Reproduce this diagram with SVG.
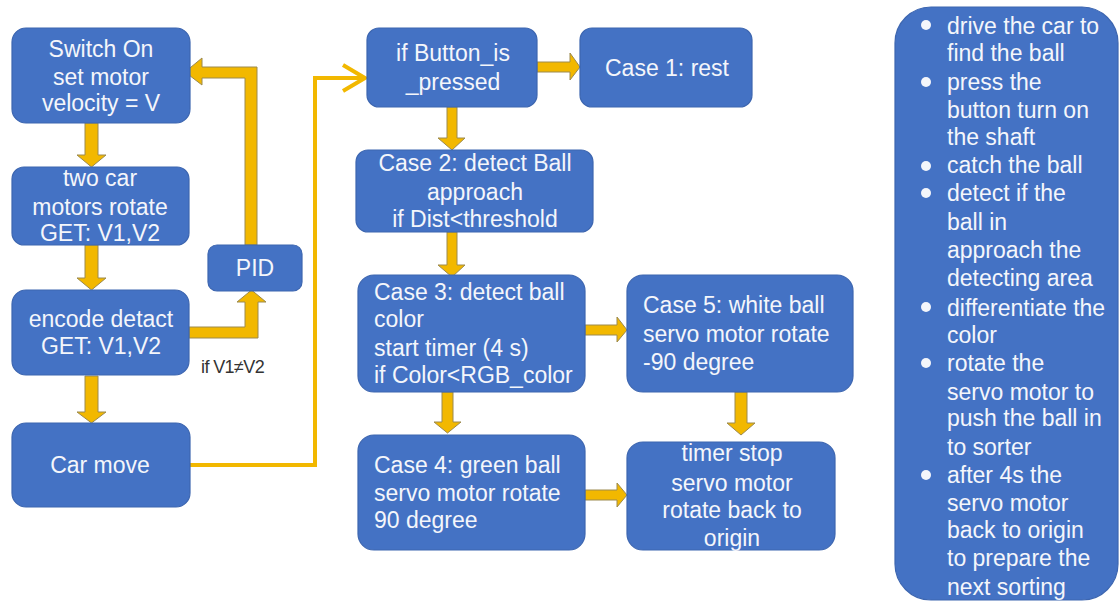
<svg xmlns="http://www.w3.org/2000/svg" width="1120" height="602" viewBox="0 0 1120 602">
<style>
.n{fill:#4472C4;stroke:#3D66B0;stroke-width:1.2}
.t{font-family:"Liberation Sans",Arial,sans-serif;font-size:23px;fill:#F4F6FB}
.c{text-anchor:middle}
.ba{fill:#F2B800;stroke:#9C8A4E;stroke-width:1}
.ln{fill:none;stroke:#F2B800;stroke-width:4;stroke-linejoin:miter}
.lbl{font-family:"Liberation Sans",Arial,sans-serif;font-size:18px;fill:#333;letter-spacing:-0.6px}
.bul{fill:#F4F6FB}
</style>
<rect width="1120" height="602" fill="#FFFFFF"/>
<g id="connectors">
<polygon class="ba" points="85,123 98,123 98,155 106,155 91.5,167 77,155 85,155"/>
<polygon class="ba" points="85,245 98,245 98,278 106,278 91.5,290 77,278 85,278"/>
<polygon class="ba" points="85,376 98,376 98,412 106,412 91.5,423 77,412 85,412"/>
<polygon class="ba" points="189,327 245,327 245,302 237,302 251.5,290 266,302 258,302 258,338 189,338"/>
<polygon class="ba" points="245,245 245,78 202,78 202,85 185,72 202,58 202,67 257,67 257,245"/>
<polyline class="ln" points="190,465 315,465 315,78 363,78"/>
<polyline class="ln" points="343,65 365,78 343,91"/>
<polygon class="ba" points="537,62 570,62 570,53 580,67 570,80 570,72 537,72"/>
<polygon class="ba" points="447,107 457,107 457,138 465,138 452,150 438,138 447,138"/>
<polygon class="ba" points="447,232 457,232 457,265 465,265 452,277 438,265 447,265"/>
<polygon class="ba" points="585,325 617,325 617,317 627,330 617,342 617,335 585,335"/>
<polygon class="ba" points="442,392 453,392 453,422 461,422 447.5,433 434,422 442,422"/>
<polygon class="ba" points="735,392 747,392 747,423 755,423 741,435 727,423 735,423"/>
<polygon class="ba" points="585,490 617,490 617,483 627,495 617,507 617,500 585,500"/>
<text class="lbl" x="201" y="373">if V1≠V2</text>
</g>
<g id="switch-on">
<rect class="n" x="12" y="28" width="178" height="95" rx="14"/>
<text class="t c" x="101" y="57">Switch On</text>
<text class="t c" x="101" y="85">set motor</text>
<text class="t c" x="101" y="111">velocity = V</text>
</g>
<g id="two-car-motors">
<rect class="n" x="12" y="167" width="177" height="78" rx="12"/>
<text class="t c" x="100" y="186">two car</text>
<text class="t c" x="100" y="215">motors rotate</text>
<text class="t c" x="100" y="241">GET: V1,V2</text>
</g>
<g id="encode-detect">
<rect class="n" x="12" y="290" width="177" height="85" rx="14"/>
<text class="t c" x="101" y="327">encode detact</text>
<text class="t c" x="101" y="354">GET: V1,V2</text>
</g>
<g id="car-move">
<rect class="n" x="12" y="423" width="178" height="84" rx="14"/>
<text class="t c" x="100" y="473">Car move</text>
</g>
<g id="pid">
<rect class="n" x="208" y="245" width="94" height="46" rx="9"/>
<text class="t c" x="255" y="276">PID</text>
</g>
<g id="if-button">
<rect class="n" x="367" y="28" width="170" height="79" rx="12"/>
<text class="t c" x="453" y="61">if Button_is</text>
<text class="t c" x="453" y="90">_pressed</text>
</g>
<g id="case1">
<rect class="n" x="580" y="28" width="172" height="79" rx="12"/>
<text class="t c" x="667" y="76">Case 1: rest</text>
</g>
<g id="case2">
<rect class="n" x="356" y="150" width="237" height="82" rx="12"/>
<text class="t c" x="475" y="171">Case 2: detect Ball</text>
<text class="t c" x="475" y="200">approach</text>
<text class="t c" x="475" y="227">if Dist&lt;threshold</text>
</g>
<g id="case3">
<rect class="n" x="358" y="275" width="227" height="117" rx="16"/>
<text class="t" x="374" y="300">Case 3: detect ball</text>
<text class="t" x="374" y="327">color</text>
<text class="t" x="374" y="356">start timer (4 s)</text>
<text class="t" x="374" y="383">if Color&lt;RGB_color</text>
</g>
<g id="case5">
<rect class="n" x="627" y="275" width="226" height="117" rx="16"/>
<text class="t" x="643" y="313">Case 5: white ball</text>
<text class="t" x="643" y="342">servo motor rotate</text>
<text class="t" x="643" y="370">-90 degree</text>
</g>
<g id="case4">
<rect class="n" x="358" y="435" width="227" height="115" rx="16"/>
<text class="t" x="374" y="473">Case 4: green ball</text>
<text class="t" x="374" y="501">servo motor rotate</text>
<text class="t" x="374" y="528">90 degree</text>
</g>
<g id="timer-stop">
<rect class="n" x="627" y="442" width="208" height="108" rx="16"/>
<text class="t c" x="732" y="461">timer stop</text>
<text class="t c" x="732" y="491">servo motor</text>
<text class="t c" x="732" y="518">rotate back to</text>
<text class="t c" x="732" y="546">origin</text>
</g>
<g id="summary">
<rect class="n" x="895" y="7" width="223" height="593" rx="36"/>
<circle class="bul" cx="926" cy="25" r="5"/>
<circle class="bul" cx="926" cy="82" r="5"/>
<circle class="bul" cx="926" cy="166" r="5"/>
<circle class="bul" cx="926" cy="193" r="5"/>
<circle class="bul" cx="926" cy="307" r="5"/>
<circle class="bul" cx="926" cy="363" r="5"/>
<circle class="bul" cx="926" cy="475" r="5"/>
<text class="t" x="947" y="34">drive the car to</text>
<text class="t" x="947" y="61">find the ball</text>
<text class="t" x="947" y="90">press the</text>
<text class="t" x="947" y="118">button turn on</text>
<text class="t" x="947" y="145">the shaft</text>
<text class="t" x="947" y="173">catch the ball</text>
<text class="t" x="947" y="201">detect if the</text>
<text class="t" x="947" y="230">ball in</text>
<text class="t" x="947" y="258">approach the</text>
<text class="t" x="947" y="286">detecting area</text>
<text class="t" x="947" y="316">differentiate the</text>
<text class="t" x="947" y="343">color</text>
<text class="t" x="947" y="371">rotate the</text>
<text class="t" x="947" y="400">servo motor to</text>
<text class="t" x="947" y="426">push the ball in</text>
<text class="t" x="947" y="455">to sorter</text>
<text class="t" x="947" y="483">after 4s the</text>
<text class="t" x="947" y="511">servo motor</text>
<text class="t" x="947" y="538">back to origin</text>
<text class="t" x="947" y="566">to prepare the</text>
<text class="t" x="947" y="595">next sorting</text>
</g>
</svg>
